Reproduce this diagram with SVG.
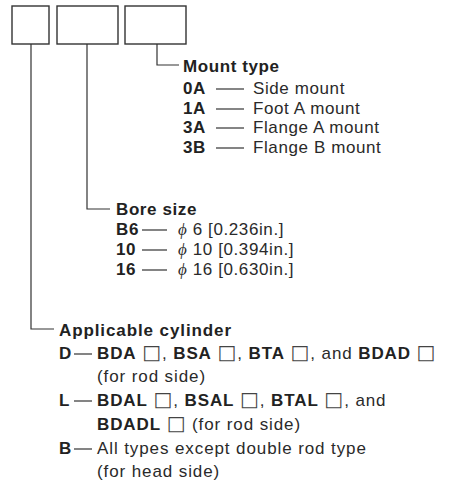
<svg xmlns="http://www.w3.org/2000/svg" width="451" height="485" viewBox="0 0 451 485">
<style>
.box{fill:none;stroke:#333;stroke-width:1.4}
.ln{fill:none;stroke:#333;stroke-width:1.2}
text{font-family:"Liberation Sans",Arial,sans-serif;font-size:17px;letter-spacing:0.6px;fill:#2a2a2a}
.b{font-weight:bold;fill:#222}
.cy{letter-spacing:0.9px}
.sq{font-family:"DejaVu Sans",sans-serif;font-weight:normal;font-size:20px;fill:#444}
.phi{font-style:italic;font-family:"Liberation Serif",serif}
</style>
<rect width="451" height="485" fill="#fff"/>
<g id="box1"><rect class="box" x="12" y="6" width="37" height="38"/></g>
<g id="box2"><rect class="box" x="57" y="6" width="61" height="38"/></g>
<g id="box3"><rect class="box" x="125" y="6" width="61" height="38"/></g>
<g id="connectors">
<polyline class="ln" points="157,44 157,65 179,65"/>
<polyline class="ln" points="87,44 87,209 110,209"/>
<polyline class="ln" points="31,44 31,329 54,329"/>
<line class="ln" x1="216" y1="89" x2="244" y2="89"/>
<line class="ln" x1="216" y1="109" x2="244" y2="109"/>
<line class="ln" x1="216" y1="128" x2="244" y2="128"/>
<line class="ln" x1="216" y1="148" x2="244" y2="148"/>
<line class="ln" x1="142" y1="230" x2="167" y2="230"/>
<line class="ln" x1="142" y1="250" x2="167" y2="250"/>
<line class="ln" x1="142" y1="270" x2="167" y2="270"/>
<line class="ln" x1="74" y1="354" x2="92" y2="354"/>
<line class="ln" x1="74" y1="401" x2="92" y2="401"/>
<line class="ln" x1="74" y1="449" x2="92" y2="449"/>
</g>
<g id="mount">
<text class="b" x="183" y="72">Mount type</text>
<text class="b" x="183" y="94">0A</text><text x="253" y="94">Side mount</text>
<text class="b" x="183" y="114">1A</text><text x="253" y="114">Foot A mount</text>
<text class="b" x="183" y="133">3A</text><text x="253" y="133">Flange A mount</text>
<text class="b" x="183" y="153">3B</text><text x="253" y="153">Flange B mount</text>
</g>
<g id="bore">
<text class="b" x="116" y="215">Bore size</text>
<text class="b" x="116" y="235" letter-spacing="0">B6</text><text x="178" y="235"><tspan class="phi">ϕ</tspan> 6 [0.236in.]</text>
<text class="b" x="116" y="255" letter-spacing="0">10</text><text x="178" y="255"><tspan class="phi">ϕ</tspan> 10 [0.394in.]</text>
<text class="b" x="116" y="275" letter-spacing="0">16</text><text x="178" y="275"><tspan class="phi">ϕ</tspan> 16 [0.630in.]</text>
</g>
<g id="cylinder">
<text class="b cy" x="59" y="336">Applicable cylinder</text>
<text class="b" x="59" y="359">D</text>
<text class="cy" x="97" y="359"><tspan class="b">BDA</tspan> <tspan class="sq">□</tspan>, <tspan class="b">BSA</tspan> <tspan class="sq">□</tspan>, <tspan class="b">BTA</tspan> <tspan class="sq">□</tspan>, and <tspan class="b">BDAD</tspan> <tspan class="sq">□</tspan></text>
<text class="cy" x="97" y="382">(for rod side)</text>
<text class="b" x="59" y="406">L</text>
<text class="cy" x="97" y="406"><tspan class="b">BDAL</tspan> <tspan class="sq">□</tspan>, <tspan class="b">BSAL</tspan> <tspan class="sq">□</tspan>, <tspan class="b">BTAL</tspan> <tspan class="sq">□</tspan>, and</text>
<text class="cy" x="97" y="430"><tspan class="b">BDADL</tspan> <tspan class="sq">□</tspan> (for rod side)</text>
<text class="b" x="59" y="454">B</text>
<text class="cy" x="97" y="454">All types except double rod type</text>
<text class="cy" x="97" y="477">(for head side)</text>
</g>
</svg>
